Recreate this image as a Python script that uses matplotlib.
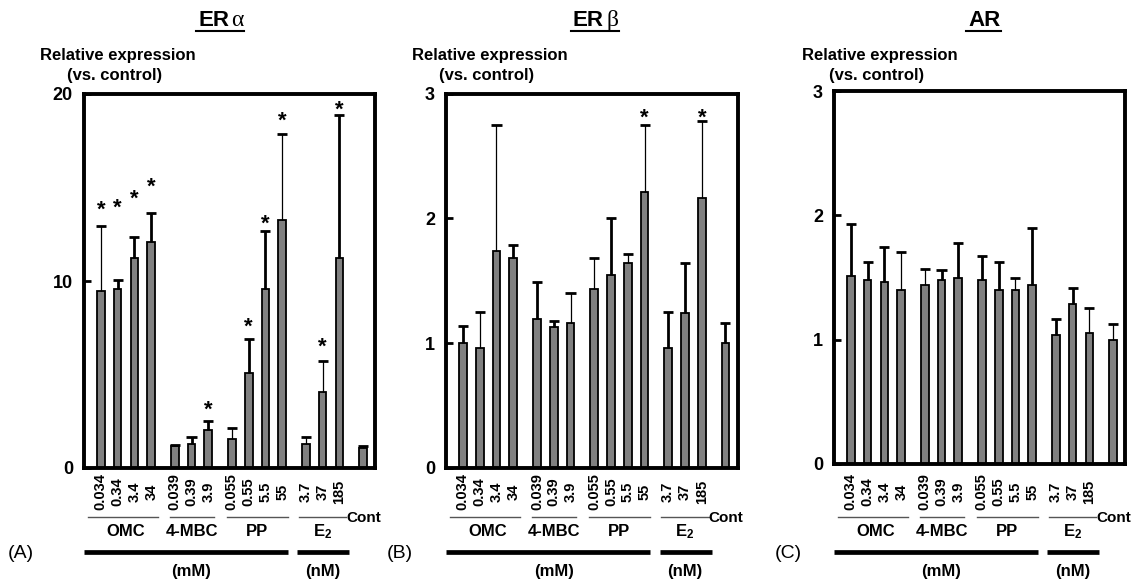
import matplotlib
matplotlib.use("Agg")
import matplotlib.pyplot as plt
from matplotlib.transforms import blended_transform_factory
import numpy as np

W, H, DPI = 1145, 581, 100
plt.rcParams['font.family'] = ['Liberation Sans', 'DejaVu Sans']
plt.rcParams['mathtext.default'] = 'regular'

# ---------------- data ----------------
conc_labels = ["0.034", "0.34", "3.4", "34", "0.039", "0.39", "3.9",
               "0.055", "0.55", "5.5", "55", "3.7", "37", "185"]
control_label = "Cont"
group_names = ["OMC", "4-MBC", "PP", "E$_2$"]
group_sizes = [4, 3, 4, 3, 1]          # last = control
unit_labels = ["(mM)", "(nM)"]
panel_titles = [("ER", "α"), ("ER", "β"), ("AR", "")]
panel_letters = ["(A)", "(B)", "(C)"]
ylabel_lines = ["Relative expression", "(vs. control)"]

mean_A = [9.45, 9.55, 11.21, 12.10, 1.19, 1.28, 2.05, 1.55, 5.10, 9.57, 13.26, 1.28, 4.08, 11.21, 1.05]
sd_A = [3.49, 0.50, 1.14, 1.52, 0.06, 0.36, 0.48, 0.59, 1.78, 3.10, 4.62, 0.36, 1.66, 7.65, 0.13]
star_A = [14.24, 14.33, 14.83, 15.44, np.nan, np.nan, 3.55, np.nan, 7.97, 13.49, 19.0, np.nan, 6.88, 19.6, np.nan]

mean_B = [1.00, 0.96, 1.736, 1.68, 1.19, 1.128, 1.165, 1.435, 1.547, 1.643, 2.21, 0.96, 1.245, 2.16, 1.00]
sd_B = [0.136, 0.29, 1.014, 0.11, 0.30, 0.052, 0.24, 0.25, 0.453, 0.072, 0.54, 0.29, 0.395, 0.62, 0.16]
star_B = [np.nan] * 10 + [2.87, np.nan, np.nan, 2.87, np.nan]

mean_C = [1.516, 1.478, 1.462, 1.403, 1.441, 1.478, 1.497, 1.478, 1.403, 1.403, 1.441, 1.04, 1.289, 1.056, 1.00]
sd_C = [0.414, 0.147, 0.284, 0.30, 0.131, 0.086, 0.281, 0.192, 0.225, 0.091, 0.457, 0.128, 0.13, 0.20, 0.13]
star_C = [np.nan] * 15

# error line style (1 = heavy stroke, 0 = light stroke)
heavy_A = [0, 1, 1, 1, 1, 1, 1, 0, 1, 1, 0, 0, 0, 1, 0]
heavy_B = [1, 0, 0, 1, 1, 1, 0, 0, 1, 0, 0, 1, 1, 0, 1]
heavy_C = [1, 1, 1, 0, 0, 1, 1, 1, 1, 0, 1, 1, 1, 0, 0]

ymax = [20, 3, 3]
yticks = [[0, 10, 20], [0, 1, 2, 3], [0, 1, 2, 3]]

# ---------------- layout ----------------
GAP = 1.4
pos = []
x = 0.0
for gi, n in enumerate(group_sizes):
    for k in range(n):
        pos.append(x)
        x += 1
    x += GAP - 1
pos = np.array(pos)
starts = np.cumsum([0] + group_sizes[:-1])

# axes rectangles in pixels: left, top, right, bottom
rects = [(84, 94, 375, 468), (446, 93.5, 737.5, 468), (834, 91, 1125, 464)]
ylab_x = [118, 490, 880]
title_x = [198, 573, 968]
letter_x = [8, 387, 775]

fig = plt.figure(figsize=(W / DPI, H / DPI), dpi=DPI)

def fy(py):
    return 1 - py / H

def fx(px):
    return px / W

panels = [(mean_A, sd_A, star_A, heavy_A), (mean_B, sd_B, star_B, heavy_B),
          (mean_C, sd_C, star_C, heavy_C)]

for p, (means, sds, stars, heavy) in enumerate(panels):
    l, t, r, b = rects[p]
    ax = fig.add_axes([fx(l), fy(b), (r - l) / W, (b - t) / H])
    ax.set_xlim(-1.0, 16.32)
    ax.set_ylim(0, ymax[p])
    means = np.array(means)
    sds = np.array(sds)
    ax.bar(pos, means, width=0.46, color='#808080', edgecolor='black',
           linewidth=1.3, zorder=2)
    for i in range(len(pos)):
        lw = 2.0 if heavy[i] else 0.9
        top = means[i] + sds[i]
        ax.plot([pos[i], pos[i]], [means[i], top], color='black', lw=lw,
                solid_capstyle='butt', zorder=3)
        ax.plot([pos[i] - 0.3, pos[i] + 0.3], [top, top], color='black',
                lw=2.0, solid_capstyle='butt', zorder=3)
        if not np.isnan(stars[i]):
            ax.annotate("*", (pos[i], stars[i]), xytext=(0, -0.62 * 16),
                        textcoords='offset points', ha='center', va='baseline',
                        fontsize=16, fontweight='bold')
    for s in ax.spines.values():
        s.set_linewidth(2.8)
    ax.set_xticks([])
    ax.set_yticks(yticks[p])
    ax.set_yticklabels([str(v) for v in yticks[p]], fontsize=13, fontweight='bold')
    ax.tick_params(axis='y', direction='in', length=5, width=2, pad=8)

    tr = blended_transform_factory(ax.transData, fig.transFigure)
    # concentration labels
    for i, lab in enumerate(conc_labels):
        fig.text(pos[i], fy(492), lab, transform=tr, rotation=90, ha='center',
                 va='center', fontsize=10.5, fontweight='bold')
    # group lines and names
    lpad = [0.75, 0.3, 0.3, 0.4]
    rpad = [0.4, 0.35, 0.35, 0.4]
    for g in range(4):
        i0 = starts[g]
        i1 = i0 + group_sizes[g] - 1
        x0, x1 = pos[i0] - lpad[g], pos[i1] + rpad[g]
        fig.add_artist(plt.Line2D([x0, x1], [fy(516.5)] * 2, transform=tr,
                                  color='#555555', lw=1.0))
        fig.text((pos[i0] + pos[i1]) / 2, fy(536.5), group_names[g], transform=tr,
                 ha='center', va='baseline', fontsize=12, fontweight='bold')
        if g == 3:
            fig.text(x1, fy(521.5), control_label, transform=tr, ha='left',
                     va='baseline', fontsize=11, fontweight='bold')
    # unit bars
    pp_last = pos[starts[2] + group_sizes[2] - 1]
    e_first = pos[starts[3]]
    e_last = pos[starts[3] + group_sizes[3] - 1]
    fig.add_artist(plt.Line2D([-1.0, pp_last + 0.35], [fy(552)] * 2, transform=tr,
                              color='black', lw=3.4, solid_capstyle='butt'))
    fig.add_artist(plt.Line2D([e_first - 0.5, e_last + 0.6], [fy(552)] * 2, transform=tr,
                              color='black', lw=3.4, solid_capstyle='butt'))
    fig.text((pos[0] + pp_last) / 2, fy(576), unit_labels[0], transform=tr,
             ha='center', va='baseline', fontsize=12, fontweight='bold')
    fig.text((e_first + e_last) / 2, fy(576), unit_labels[1], transform=tr,
             ha='center', va='baseline', fontsize=12, fontweight='bold')

    # panel letter
    fig.text(fx(letter_x[p]), fy(558), panel_letters[p], ha='left', va='baseline',
             fontsize=14)
    # y label
    fig.text(fx(ylab_x[p]), fy(60), ylabel_lines[0], ha='center', va='baseline',
             fontsize=12, fontweight='bold')
    fig.text(fx(ylab_x[p] - 3), fy(80), ylabel_lines[1], ha='center', va='baseline',
             fontsize=12, fontweight='bold')
    # title
    main, greek = panel_titles[p]
    t1 = fig.text(fx(title_x[p]), fy(26), main, ha='left', va='baseline',
                  fontsize=16, fontweight='bold')
    fig.canvas.draw()
    bb = t1.get_window_extent()
    x_end = bb.x1
    if greek:
        t2 = fig.text((x_end + 2) / W, fy(26), greek, ha='left', va='baseline',
                      fontsize=17, family=['Liberation Serif', 'DejaVu Serif'])
        fig.canvas.draw()
        x_end = t2.get_window_extent().x1
    fig.add_artist(plt.Line2D([fx(title_x[p] - 2), (x_end + 1) / W], [fy(30.5)] * 2,
                              color='black', lw=1.5))

fig.savefig("out.png", dpi=DPI)
